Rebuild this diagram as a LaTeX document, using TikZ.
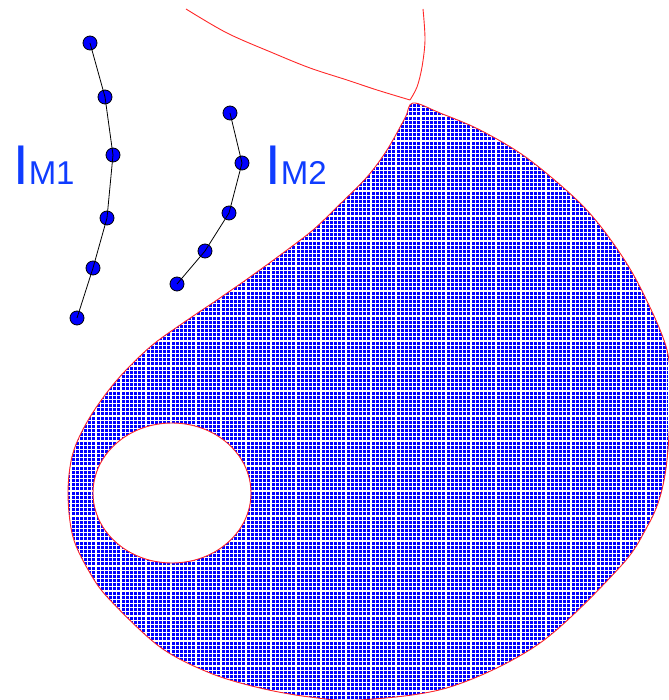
\documentclass[tikz,border=0pt]{standalone}
\usepackage{fontspec}
\newfontfamily\lblfont{Liberation Sans}
\usepackage{tikz}
\usetikzlibrary{positioning}
\definecolor{cDot}{RGB}{0,0,255}
\definecolor{cFill}{RGB}{0,0,255}
\definecolor{cLabel}{RGB}{15,60,255}
\definecolor{cRim}{RGB}{255,40,40}
\tikzset{
  dotnode/.style={circle,draw=black,fill=cDot,minimum size=14pt,
                  inner sep=0pt,line width=0.8pt},
  lnk/.style={draw=black,line width=0.8pt},
  rimline/.style={draw=cRim,line width=0.9pt},
  lblnode/.style={anchor=base west,inner sep=0pt,text=cLabel,font=\lblfont}
}
% outline of the shaded region
\def\outerrim{plot[smooth cycle] coordinates {
  (413,103) (440,113) (480,130) (527,158) (580,203) (613,243) (640,287)
  (667,350) (670,405) (667,460) (660,497) (647,527) (620,567) (540,643)
  (450,687) (360,700) (310,697) (260,688) (210,673) (160,647) (110,600)
  (90,573) (73,537) (68,493) (73,453) (90,417) (117,380) (150,347)
  (183,323) (217,300) (250,277) (283,253) (313,230) (337,207) (367,177)
  (387,150) (405,118)}}
\def\hole{(172,493) ellipse [x radius=79,y radius=70]}
\begin{document}
\begin{tikzpicture}[x=1pt,y=-1pt,tension=0.55]
  \useasboundingbox (0,0) rectangle (668,700);

  % grid fill
  \begin{scope}[even odd rule]
    \clip \outerrim \hole;
    \fill[cFill] (0,0) rectangle (668,700);
    \foreach \b in {-5,20,...,670}{
      \fill[white] (\b,0) rectangle ++(1.8,700);
      \foreach \i in {0,...,4}
        \fill[white] ({\b+5+4*\i},0) rectangle ++(0.85,700);
    }
    \foreach \b in {-10,15,...,690}{
      \fill[white] (0,\b) rectangle ++(668,1.8);
      \foreach \i in {0,...,4}
        \fill[white] (0,{\b+5+4*\i}) rectangle ++(668,0.85);
    }
  \end{scope}
  \draw[rimline] \outerrim;
  \draw[rimline] \hole;

  % top curves
  \draw[rimline] plot[smooth] coordinates {
    (186,9) (227,33) (273,53) (310,68) (347,80) (377,90) (410,100)};
  \draw[rimline] plot[smooth] coordinates {
    (410,100) (417,87) (422,67) (425,40) (423,9)};

  % first chain
  \node[dotnode] (a1) at (90,43) {};
  \node[dotnode] (a2) at (105,97) {};
  \node[dotnode] (a3) at (113,155) {};
  \node[dotnode] (a4) at (107,218) {};
  \node[dotnode] (a5) at (93,268) {};
  \node[dotnode] (a6) at (77,318) {};
  % second chain
  \node[dotnode] (b1) at (230,113) {};
  \node[dotnode] (b2) at (242,163) {};
  \node[dotnode] (b3) at (229,213) {};
  \node[dotnode] (b4) at (205,251) {};
  \node[dotnode] (b5) at (177,284) {};

  \foreach \f/\t in {a1/a2,a2/a3,a3/a4,a4/a5,a5/a6,b1/b2,b2/b3,b3/b4,b4/b5}
    \draw[lnk] (\f.center) -- (\t.center);

  \node[lblnode] (lm1) at (13,185)
      {\fontsize{56}{56}\selectfont I{\fontsize{33}{33}\selectfont M1}};
  \node[lblnode] (lm2) at (265,185)
      {\fontsize{56}{56}\selectfont I{\fontsize{33}{33}\selectfont M2}};
\end{tikzpicture}
\end{document}
